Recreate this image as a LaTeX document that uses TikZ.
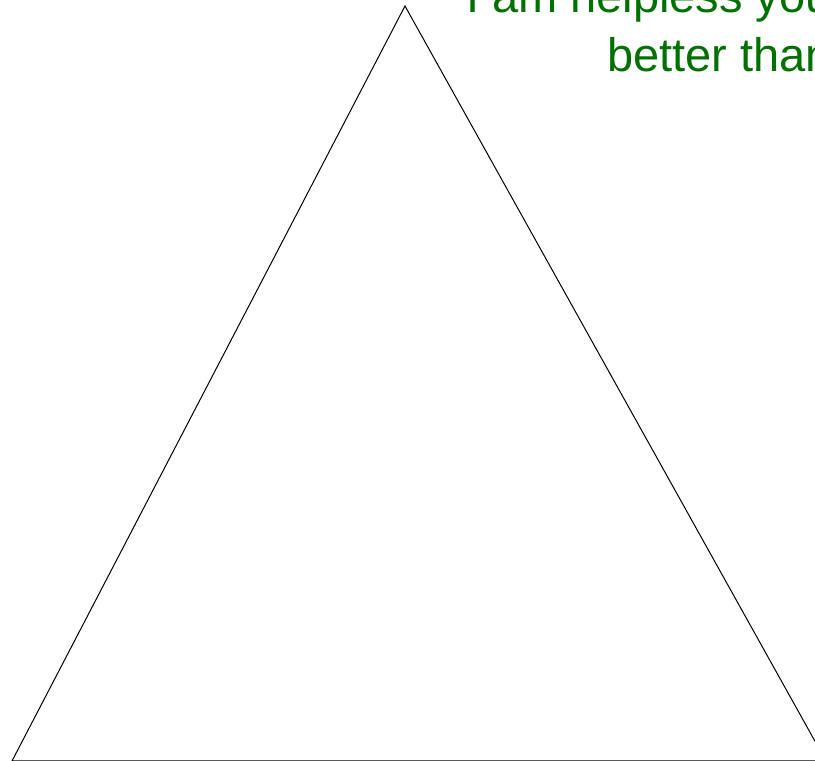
\documentclass[tikz,border=0pt]{standalone}
\usepackage{fontspec}
\setmainfont{Liberation Sans}
\usepackage{tikz}
\usetikzlibrary{positioning}
\definecolor{leafgreen}{RGB}{0,112,0}

\begin{document}
\begin{tikzpicture}[
  x=1pt, y=1pt,
  edge/.style={draw=black, line width=1pt, line join=miter},
  quote/.style={text=leafgreen, align=right, inner sep=0pt, anchor=south east,
                font=\fontsize{47}{59}\selectfont},
]
\clip (0,0) rectangle (815,761);
\coordinate (top) at (405,755);
\coordinate (left) at (12,0);
\coordinate (right) at (826,0);
\draw[edge] (left) -- (top) -- (right) -- cycle;
\node[quote] (words) at (832,689) {I am helpless you\\better than};
\end{tikzpicture}
\end{document}
